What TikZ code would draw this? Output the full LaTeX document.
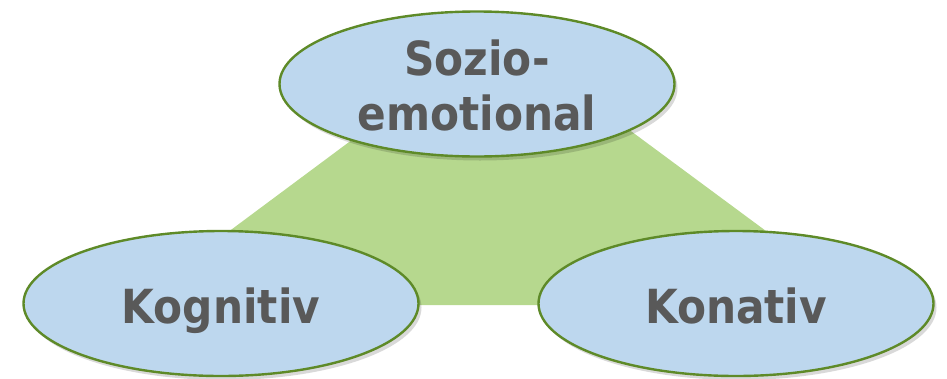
\documentclass[tikz,border=0pt]{standalone}
\usepackage{fontspec}
\setmainfont{DejaVu Sans Condensed}
\usetikzlibrary{shapes.geometric,shadows}
\definecolor{ellfill}{RGB}{189,215,238}
\definecolor{ellline}{RGB}{94,138,40}
\definecolor{trifill}{RGB}{182,216,142}
\definecolor{txt}{RGB}{89,89,89}
\tikzset{
  ell/.style={ellipse, draw=ellline, line width=2.4pt, fill=ellfill, inner sep=0pt,
    minimum width=395pt, minimum height=145pt,
    drop shadow={shadow xshift=3pt, shadow yshift=-4pt, opacity=0.15, fill=black}},
  lbl/.style={anchor=base, text=txt, font=\fontsize{47}{55}\selectfont\bfseries, inner sep=0pt, align=center}
}
\begin{document}
\begin{tikzpicture}[x=1pt,y=-1pt]
\useasboundingbox (0,0) rectangle (947,378);
\fill[trifill] (497,32) -- (866,305) -- (130,305) -- cycle;
\node[ell] (soz) at (477,84) {};
\node[ell] (kog) at (221,303.5) {};
\node[ell] (kon) at (736,303.5) {};
\node[lbl] (sozt) at (477,75) {Sozio-};
\node[lbl] (emot) at (477,130) {emotional};
\node[lbl] (kogt) at (221,323) {Kognitiv};
\node[lbl] (kont) at (736,323) {Konativ};
\end{tikzpicture}
\end{document}
